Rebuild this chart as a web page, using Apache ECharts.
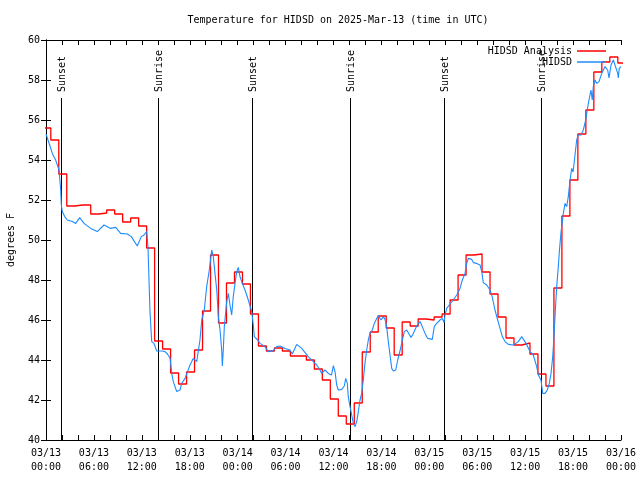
<!DOCTYPE html>
<html>
<head>
<meta charset="utf-8">
<script src="https://cdn.jsdelivr.net/npm/echarts@6/dist/echarts.min.js"></script>
<style>
html,body{margin:0;padding:0;background:#fff;}
#chart{width:640px;height:480px;}
</style>
</head>
<body>
<div id="chart"></div>
<script>
// ---- data ----
var titleText = 'Temperature for HIDSD on 2025-Mar-13 (time in UTC)';
var yAxisName = 'degrees F';
var seriesNames = ['HIDSD Analysis', 'HIDSD'];
// hours since 2025-03-13 00:00 UTC
var axisStartDay = 13;
// Hourly analysis values (each value holds from HH-1:36 to HH:36), k = 0..72
var analysisFirstHour = -0.4;
var analysisTemps = [
  55.6, 55.0, 53.3, 51.7, 51.75, 51.75, 51.3, 51.35, 51.5, 51.3,
  50.9, 51.1, 50.7, 49.6, 44.95, 44.55, 43.35, 42.8, 43.4, 44.5,
  46.45, 49.25, 45.85, 47.85, 48.4, 47.8, 46.3, 44.7, 44.45, 44.6,
  44.45, 44.2, 44.2, 44.0, 43.55, 43.0, 42.05, 41.2, 40.8, 41.85,
  44.4, 45.4, 46.2, 45.6, 44.25, 45.9, 45.7, 46.05, 46.0, 46.15,
  46.3, 47.0, 48.25, 49.25, 49.3, 48.4, 47.3, 46.15, 45.1, 44.75,
  44.85, 44.3, 43.3, 42.7, 47.6, 51.2, 53.0, 55.3, 56.5, 58.4,
  58.9, 59.15, 58.85
];
// Observations [hour, temp F]
var hidsdObs = [
  [0,55.3],[0.5,54.7],[0.79,54.33],[1.21,54.0],[1.63,53.5],[1.84,52.5],[1.92,51.75],[2.04,51.42],
  [2.34,51.17],[2.67,51.0],[3.29,50.92],[3.72,50.83],[4.22,51.12],[4.76,50.83],[5.6,50.58],[6.42,50.42],
  [7.26,50.75],[8.1,50.58],[8.73,50.63],[9.35,50.33],[10.18,50.3],[10.68,50.17],[11.43,49.7],[11.93,50.17],
  [12.27,50.25],[12.61,50.42],[12.77,49.67],[13.02,46.42],[13.24,44.92],[13.52,44.83],[13.86,44.45],[14.56,44.45],
  [14.9,44.42],[15.2,44.3],[15.53,44.1],[15.74,43.33],[15.94,42.92],[16.37,42.42],[16.78,42.5],[16.99,42.83],
  [17.41,43.08],[18.03,43.75],[18.44,44.08],[18.87,43.92],[19.28,45.0],[19.5,46.0],[19.82,46.5],[20.12,47.67],
  [20.45,48.5],[20.75,49.5],[20.95,49.17],[21.16,48.33],[21.38,47.5],[21.58,46.17],[21.79,45.5],[22.0,44.5],
  [22.08,43.7],[22.2,44.5],[22.33,45.67],[22.63,46.92],[22.83,47.33],[23.04,46.75],[23.25,46.25],[23.45,47.17],
  [23.67,47.83],[23.88,48.42],[24.08,48.63],[24.29,48.17],[24.58,47.83],[24.92,47.5],[25.33,47.0],[25.76,46.42],
  [25.96,45.75],[26.08,45.17],[26.51,45.0],[26.8,44.83],[27.42,44.67],[27.84,44.42],[28.46,44.47],[28.89,44.67],
  [29.3,44.7],[29.93,44.58],[30.55,44.5],[30.84,44.3],[31.39,44.78],[32.02,44.58],[32.84,44.17],[33.47,43.92],
  [33.9,43.75],[34.31,43.5],[34.52,43.33],[34.94,43.5],[35.35,43.33],[35.75,43.25],[35.98,43.72],[36.19,43.42],
  [36.4,42.75],[36.6,42.5],[37.03,42.53],[37.35,42.7],[37.53,43.08],[37.73,42.83],[37.85,42.17],[38.07,41.67],
  [38.28,41.25],[38.48,40.83],[38.69,40.67],[38.91,40.92],[39.11,41.42],[39.32,42.0],[39.53,42.33],[39.73,43.0],
  [39.94,43.83],[40.16,44.5],[40.36,45.0],[40.57,45.33],[40.86,45.5],[41.11,45.83],[41.41,46.08],[41.61,46.22],
  [41.95,46.0],[42.24,46.17],[42.45,46.03],[42.66,45.67],[42.86,44.92],[43.08,44.25],[43.29,43.58],[43.49,43.45],
  [43.79,43.5],[44.04,44.0],[44.2,44.25],[44.45,44.67],[44.62,45.0],[44.87,45.42],[45.17,45.5],[45.45,45.3],
  [45.71,45.13],[45.99,45.33],[46.42,45.7],[46.83,45.92],[47.12,45.67],[47.46,45.33],[47.8,45.08],[48.37,45.03],
  [48.62,45.67],[48.92,45.83],[49.34,46.0],[49.62,46.08],[49.84,45.87],[49.96,46.25],[50.18,46.58],[50.59,46.8],
  [51.0,47.0],[51.43,47.25],[51.84,47.58],[52.13,48.0],[52.47,48.33],[52.68,48.83],[52.88,49.08],[53.09,49.17],
  [53.31,49.03],[53.51,48.87],[53.93,48.83],[54.35,48.75],[54.56,48.42],[54.76,47.87],[55.18,47.75],[55.6,47.5],
  [55.89,47.13],[56.22,46.5],[56.56,46.0],[56.85,45.58],[57.14,45.17],[57.48,44.92],[57.89,44.78],[58.52,44.75],
  [59.14,44.92],[59.57,45.17],[59.77,45.25],[60.11,44.83],[60.61,44.42],[61.02,44.25],[61.44,43.67],[61.65,43.25],
  [61.98,43.0],[62.2,42.33],[62.48,42.33],[62.77,42.5],[63.02,42.83],[63.24,43.33],[63.45,44.17],[63.61,45.17],
  [63.78,46.5],[63.95,47.67],[64.15,48.67],[64.28,49.42],[64.49,50.4],[64.65,50.9],[64.78,51.33],[64.99,51.83],
  [65.2,51.67],[65.4,52.17],[65.62,53.0],[65.83,53.58],[66.0,53.4],[66.24,54.25],[66.45,55.0],[66.65,55.25],
  [66.99,55.25],[67.28,55.5],[67.58,56.0],[67.91,56.83],[68.24,57.5],[68.4,57.0],[68.53,57.67],[68.75,58.0],
  [68.96,57.83],[69.25,57.92],[69.58,58.33],[70.0,58.67],[70.33,58.5],[70.5,58.1],[70.75,58.75],[71.04,59.0],
  [71.25,58.9],[71.59,58.33],[71.66,58.1],[71.78,58.58],[72.0,58.67]
];
var sunHours = [1.93, 14.05, 25.83, 38.07, 49.88, 62.03];
var sunLabels = ['Sunset', 'Sunrise', 'Sunset', 'Sunrise', 'Sunset', 'Sunrise'];
var sunLineTop = 57.1;
var yMin = 40, yMax = 60, yStep = 2;
var xMin = 0, xMax = 72, xTickStep = 2, xLabelStep = 6;

// ---- build ----
var FONT = 'DejaVu Sans Mono';
var analysisData = analysisTemps.map(function (v, k) { return [analysisFirstHour + k, v]; });
analysisData.push([analysisFirstHour + analysisTemps.length, analysisTemps[analysisTemps.length - 1]]);
function pad(n) { return (n < 10 ? '0' : '') + n; }
function xLabel(v) {
  if (Math.round(v) % xLabelStep !== 0) return '';
  var day = axisStartDay + Math.floor(v / 24);
  var hh = Math.round(v) % 24;
  return '03/' + pad(day) + '\n' + pad(hh) + ':00';
}
var chart = echarts.init(document.getElementById('chart'), null, { renderer: 'canvas' });
var axisCommon = {
  axisLine: { lineStyle: { color: '#000', width: 1 } },
  splitLine: { show: false }
};
chart.setOption({
  animation: false,
  backgroundColor: '#fff',
  textStyle: { fontFamily: FONT },
  title: {
    text: titleText, left: 333, top: 10, textAlign: 'center',
    textStyle: { fontFamily: FONT, fontSize: 10, fontWeight: 'normal', color: '#000' }
  },
  legend: {
    data: seriesNames, orient: 'vertical', right: 29, top: 41, align: 'right',
    icon: 'rect', itemWidth: 29, itemHeight: 1.5, itemGap: 1,
    textStyle: { fontFamily: FONT, fontSize: 10, color: '#000' }
  },
  grid: { left: 46, right: 19, top: 40, bottom: 40, containLabel: false, outerBoundsMode: 'none' },
  xAxis: [
    Object.assign({
      type: 'value', min: xMin, max: xMax, interval: xTickStep, position: 'bottom',
      axisTick: { inside: true, length: 5, lineStyle: { color: '#000' } },
      axisLabel: { formatter: xLabel, fontFamily: FONT, fontSize: 10, color: '#000', lineHeight: 14, margin: 6, showMinLabel: true, showMaxLabel: true, hideOverlap: false }
    }, axisCommon),
    Object.assign({
      type: 'value', min: xMin, max: xMax, interval: xTickStep, position: 'top',
      axisTick: { inside: true, length: 5, lineStyle: { color: '#000' } },
      axisLabel: { show: false }
    }, axisCommon)
  ],
  yAxis: [
    Object.assign({
      type: 'value', min: yMin, max: yMax, interval: yStep, position: 'left',
      name: yAxisName, nameLocation: 'middle', nameGap: 30, nameRotate: 90,
      nameTextStyle: { fontFamily: FONT, fontSize: 10, color: '#000' },
      axisTick: { inside: true, length: 5, lineStyle: { color: '#000' } },
      axisLabel: { fontFamily: FONT, fontSize: 10, color: '#000', margin: 6 }
    }, axisCommon),
    Object.assign({
      type: 'value', min: yMin, max: yMax, interval: yStep, position: 'right',
      axisTick: { inside: true, length: 5, lineStyle: { color: '#000' } },
      axisLabel: { show: false }
    }, axisCommon)
  ],
  series: [
    {
      type: 'custom', name: 'sun', xAxisIndex: 0, yAxisIndex: 0, silent: true, z: 1,
      data: sunHours.map(function (h) { return [h, sunLineTop]; }),
      renderItem: function (params, api) {
        var h = api.value(0);
        var top = api.coord([h, api.value(1)]);
        var bot = api.coord([h, yMin]);
        var x = Math.round(top[0]) + 0.5;
        return {
          type: 'group',
          children: [
            { type: 'line', shape: { x1: x, y1: bot[1], x2: x, y2: top[1] }, style: { stroke: '#000', lineWidth: 1 } },
            { type: 'text', x: x + 1, y: top[1] - 6, rotation: Math.PI / 2,
              style: { text: sunLabels[params.dataIndex], font: '10px ' + FONT, fill: '#000', align: 'left', verticalAlign: 'middle' } }
          ]
        };
      }
    },
    {
      type: 'line', name: seriesNames[0], data: analysisData, step: 'end',
      showSymbol: false, symbol: 'none', z: 3,
      lineStyle: { color: '#ff0000', width: 1.3 }, itemStyle: { color: '#ff0000' }
    },
    {
      type: 'line', name: seriesNames[1], data: hidsdObs,
      showSymbol: false, symbol: 'none', z: 4,
      lineStyle: { color: '#1e8cff', width: 1.1 }, itemStyle: { color: '#1e8cff' }
    }
  ]
});
</script>
</body>
</html>
